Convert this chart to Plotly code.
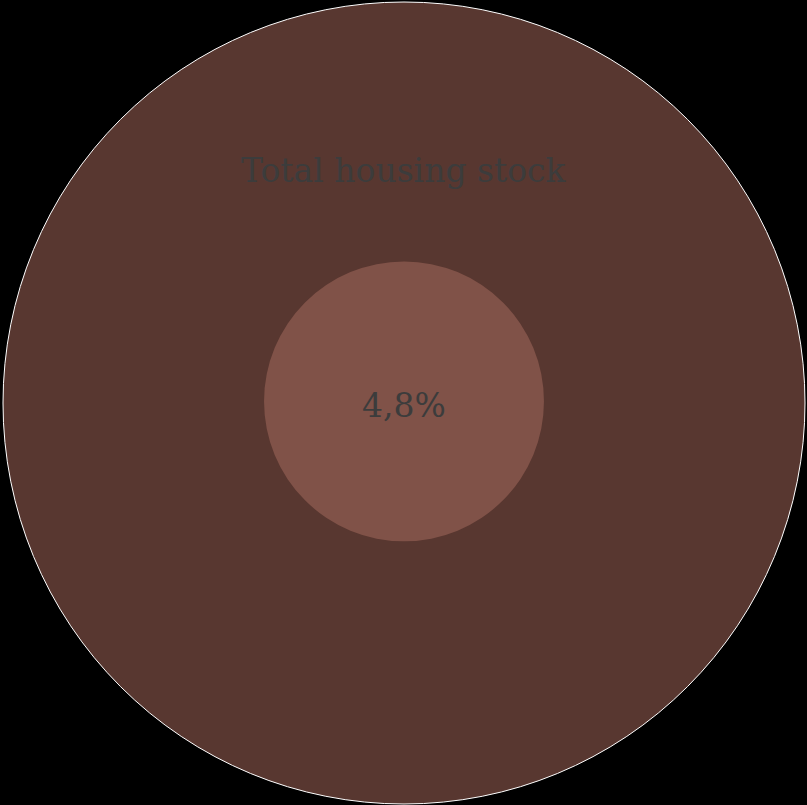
import plotly.graph_objects as go

# Data
category = "Total housing stock"
share_pct = 4.8
share_label = f"{share_pct:.1f}%".replace(".", ",")

W, H = 807, 805
outer_r = 1.0
inner_r = 0.349

fig = go.Figure()

# invisible trace to establish axes
fig.add_trace(go.Scatter(x=[0], y=[0], mode="markers", marker=dict(opacity=0), hoverinfo="skip", showlegend=False))

fig.add_shape(type="circle", xref="x", yref="y",
              x0=-outer_r, x1=outer_r, y0=-outer_r, y1=outer_r,
              fillcolor="#583730", line=dict(color="#ffffff", width=1), layer="below")
fig.add_shape(type="circle", xref="x", yref="y",
              x0=-inner_r, x1=inner_r, y0=-inner_r + 0.004, y1=inner_r + 0.004,
              fillcolor="#805248", line=dict(width=0), layer="below")

fig.add_annotation(x=0, y=0.581, xref="x", yref="y", text=category, showarrow=False,
                   font=dict(family="DejaVu Serif", size=33, color="#3c3c3c"))
fig.add_annotation(x=0, y=-0.005, xref="x", yref="y", text=share_label, showarrow=False,
                   font=dict(family="DejaVu Serif", size=33, color="#3c3c3c"))

fig.update_xaxes(range=[-404 / 401, 403 / 401], visible=False, fixedrange=True)
fig.update_yaxes(range=[-402 / 401, 403 / 401], visible=False, fixedrange=True)
fig.update_layout(width=W, height=H, margin=dict(l=0, r=0, t=0, b=0),
                  paper_bgcolor="#000000", plot_bgcolor="#000000", showlegend=False)

fig.write_html("out.html", config={"displayModeBar": False},
               post_script="document.body.style.margin='0';document.body.style.overflow='hidden';document.body.style.background='#000';")
